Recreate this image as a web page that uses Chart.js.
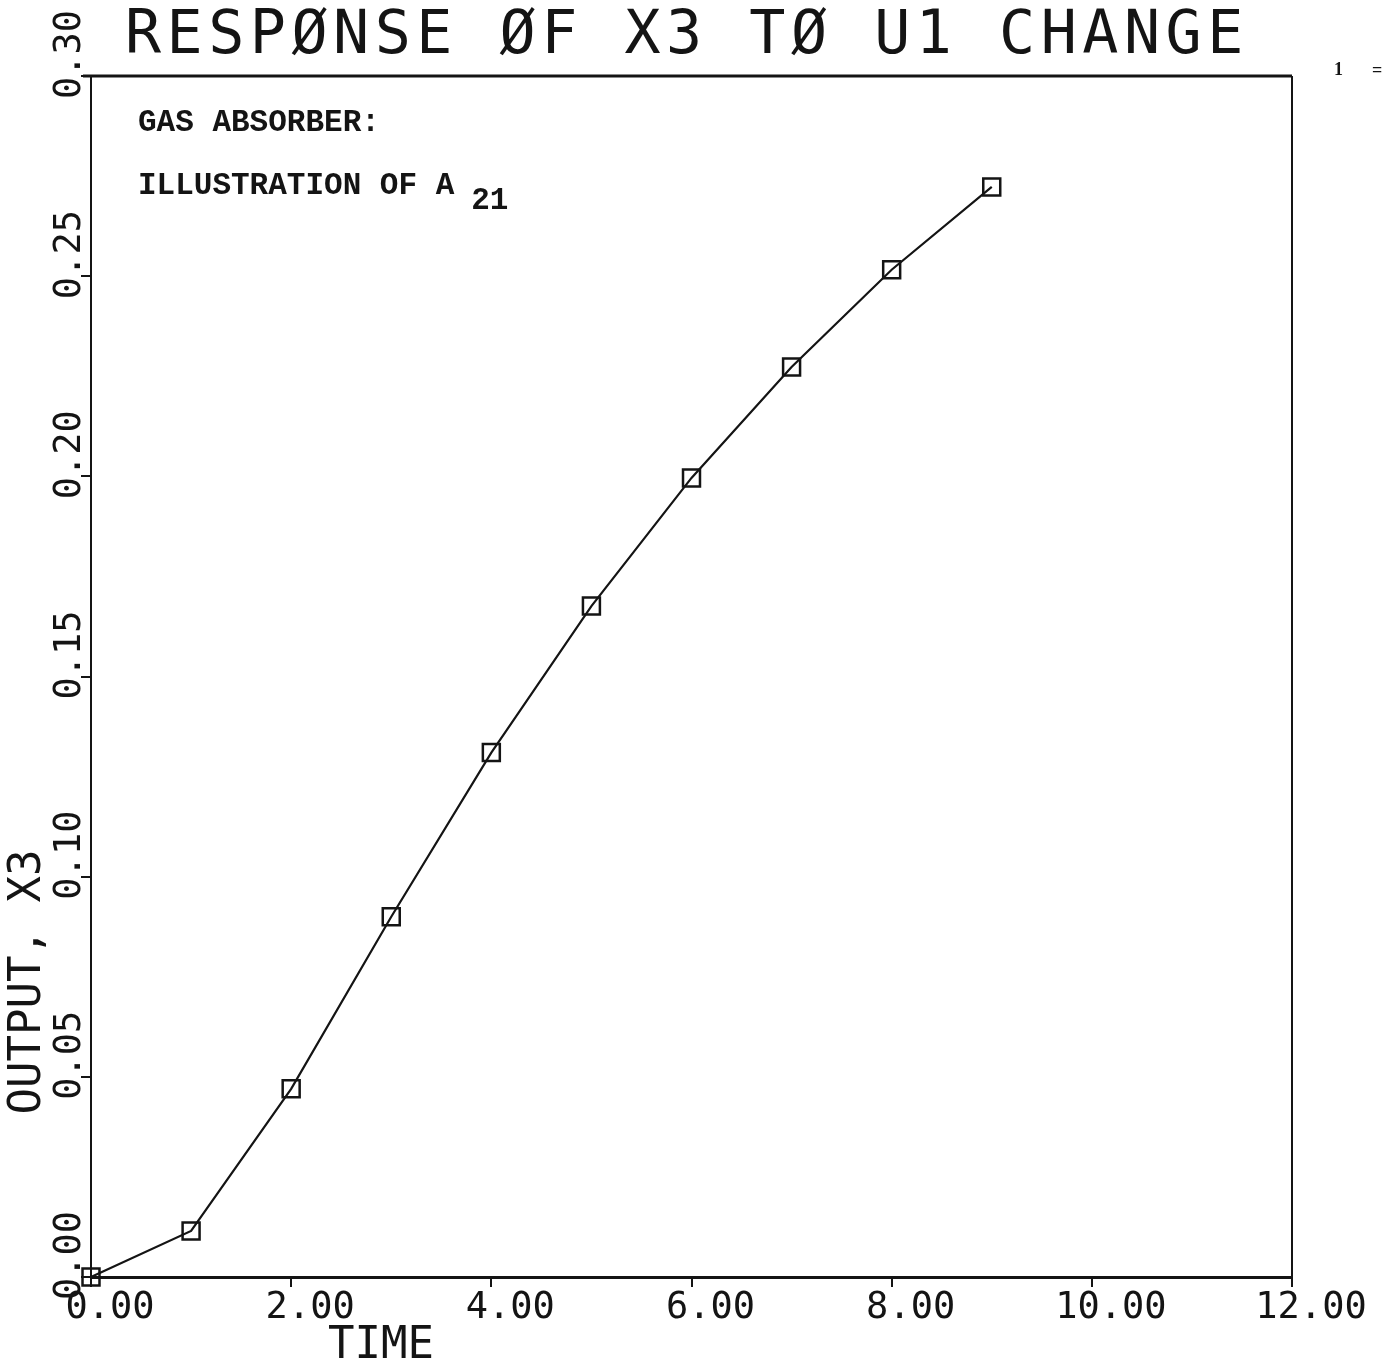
<!DOCTYPE html>
<html>
<head>
<meta charset="utf-8">
<script src="https://cdn.jsdelivr.net/npm/chart.js@4"></script>
<style>
  html, body { margin: 0; padding: 0; background: #fff; }
  #wrap { width: 1388px; height: 1367px; }
</style>
</head>
<body>
<div id="wrap"><canvas id="chart" width="1388" height="1367"></canvas></div>
<script>
// グラフのデータ
const times = [0, 1, 2, 3, 4, 5, 6, 7, 8, 9];
const outputX3 = [0.0, 0.0115, 0.047, 0.090, 0.131, 0.1676, 0.1996, 0.2273, 0.2516, 0.2723];
const xTicks = [0, 2, 4, 6, 8, 10, 12];
const yTicks = [0, 0.05, 0.10, 0.15, 0.20, 0.25, 0.30];

// テキスト
const titleText = "RESPØNSE ØF X3 TØ U1 CHANGE";
const xLabel = "TIME";
const yLabel = "OUTPUT, X3";
const noteLines = ["GAS ABSORBER:", "ILLUSTRATION OF A"];
const noteSub = "21";

const ink = "#141414";
const mono = '"DejaVu Sans Mono", monospace';

// 枠とテキストを描くプラグイン
const plotterText = {
    id: "plotterText",
    beforeDatasetsDraw(c) {
        const a = c.chartArea;
        const ctx = c.ctx;
        ctx.save();
        ctx.strokeStyle = ink;
        ctx.lineWidth = 3;
        ctx.beginPath();
        ctx.moveTo(a.left - 8, a.top);
        ctx.lineTo(a.right, a.top);
        ctx.stroke();
        ctx.lineWidth = 2;
        ctx.beginPath();
        ctx.moveTo(a.right, a.top);
        ctx.lineTo(a.right, a.bottom);
        ctx.stroke();
        ctx.restore();
    },
    afterDraw(c) {
        const ctx = c.ctx;
        const xs = c.scales.x;
        const ys = c.scales.y;
        ctx.save();
        ctx.fillStyle = ink;

        // タイトル
        ctx.font = "60px " + mono;
        ctx.letterSpacing = "5.5px";
        ctx.textAlign = "left";
        ctx.textBaseline = "middle";
        ctx.fillText(titleText, 125, 37);
        ctx.letterSpacing = "0px";

        // X軸の目盛りラベル
        ctx.font = "37px " + mono;
        ctx.textAlign = "center";
        xTicks.forEach(v => {
            ctx.fillText(v.toFixed(2), xs.getPixelForValue(v) + 19, 1308);
        });

        // Y軸の目盛りラベル（回転）
        yTicks.forEach(v => {
            ctx.save();
            ctx.translate(70, ys.getPixelForValue(v) + 23);
            ctx.rotate(-Math.PI / 2);
            ctx.textAlign = "left";
            ctx.fillText(v.toFixed(2), 0, 0);
            ctx.restore();
        });

        // 軸タイトル
        ctx.font = "44px " + mono;
        ctx.textAlign = "center";
        ctx.fillText(xLabel, 381, 1347);
        ctx.save();
        ctx.translate(29, 982);
        ctx.rotate(-Math.PI / 2);
        ctx.fillText(yLabel, 0, 0);
        ctx.restore();

        // 注記
        ctx.font = 'bold 31px "Liberation Mono", monospace';
        ctx.textAlign = "left";
        ctx.fillText(noteLines[0], 138, 123);
        ctx.fillText(noteLines[1], 138, 186);
        const w = ctx.measureText(noteLines[1]).width;
        ctx.fillText(noteSub, 138 + w + 17, 201);

        ctx.font = 'bold 18px "Liberation Serif", serif';
        ctx.fillText("1", 1334, 70);
        ctx.fillText("=", 1372, 71);
        ctx.restore();
    }
};

const ctx = document.getElementById("chart").getContext("2d");
const chart = new Chart(ctx, {
    type: "line",
    data: {
        datasets: [{
            label: "X3",
            data: times.map((t, i) => ({ x: t, y: outputX3[i] })),
            borderColor: ink,
            borderWidth: 2.2,
            tension: 0,
            clip: false,
            pointStyle: "rect",
            pointRadius: 12,
            pointBorderWidth: 2.5,
            pointBorderColor: ink,
            pointBackgroundColor: "rgba(255,255,255,0)"
        }]
    },
    options: {
        responsive: false,
        animation: false,
        layout: { padding: { left: 81, right: 96, top: 76, bottom: 80 } },
        plugins: {
            legend: { display: false },
            tooltip: { enabled: false },
            title: { display: false }
        },
        scales: {
            x: {
                type: "linear",
                min: 0,
                max: 12,
                afterBuildTicks: s => { s.ticks = xTicks.map(v => ({ value: v })); },
                afterFit: s => { s.height = 10; },
                ticks: { display: false },
                grid: { drawOnChartArea: false, drawTicks: true, tickLength: 10, color: ink, lineWidth: 2 },
                border: { display: true, color: ink, width: 3 }
            },
            y: {
                type: "linear",
                min: 0,
                max: 0.30,
                afterBuildTicks: s => { s.ticks = yTicks.map(v => ({ value: v })); },
                afterFit: s => { s.width = 10; },
                ticks: { display: false },
                grid: { drawOnChartArea: false, drawTicks: true, tickLength: 10, color: ink, lineWidth: 2 },
                border: { display: true, color: ink, width: 2 }
            }
        }
    },
    plugins: [plotterText]
});
</script>
</body>
</html>
